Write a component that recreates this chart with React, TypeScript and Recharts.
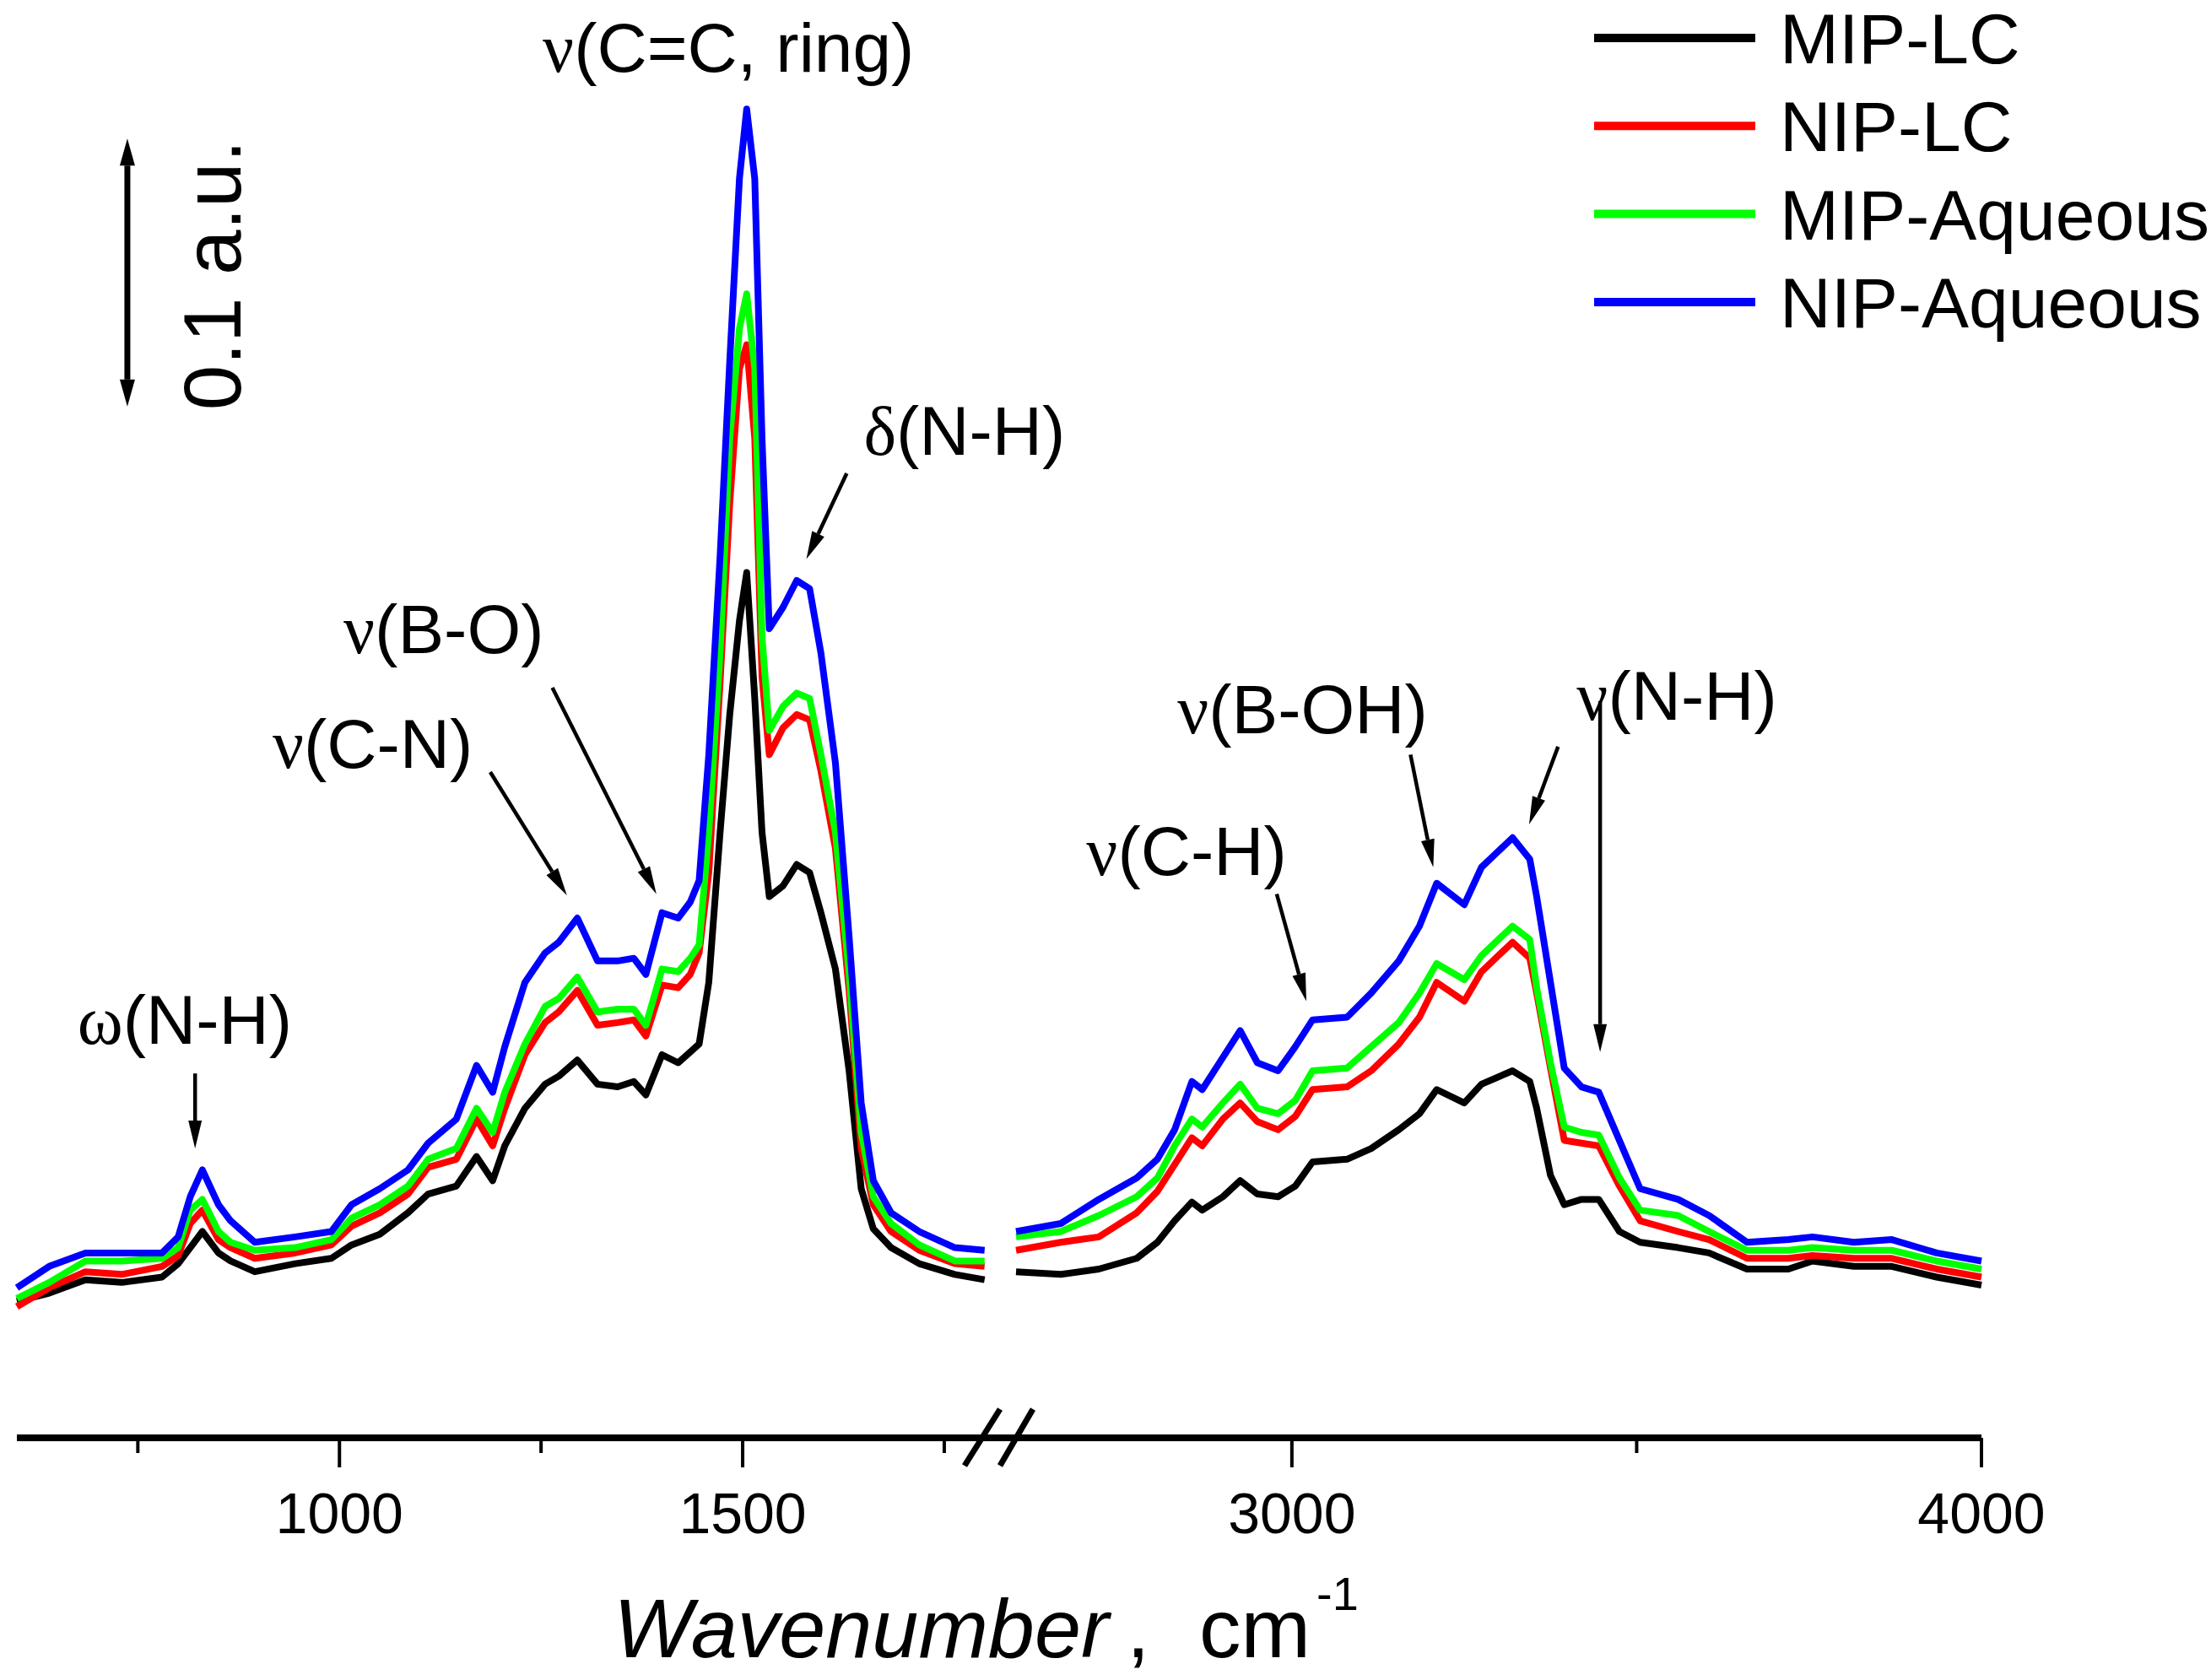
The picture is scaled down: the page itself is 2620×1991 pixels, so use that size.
import { LineChart, Line, XAxis, YAxis, ReferenceLine, ReferenceDot } from 'recharts';

const W = 2620;
const H = 1991;
const PLOT_BOTTOM = 1704;
// 0.1 a.u. on the scale bar is 317.5 px tall
const Y_MAX = PLOT_BOTTOM / 3175;
const X_AXIS_H = 100;

const seriesNames = ['MIP-LC', 'NIP-LC', 'MIP-Aqueous', 'NIP-Aqueous'];
const seriesKeys = ['mipLc', 'nipLc', 'mipAq', 'nipAq'];
const seriesColors = ['#000000', '#ff0000', '#00ff00', '#0000ff'];

// fingerprint region, 600-1800 cm-1
const lowWavenumbers = [
  600, 640, 685, 730, 780, 800, 815, 830, 850, 865, 895, 945, 990, 1015, 1050, 1085, 1110, 1145,
  1170, 1190, 1205, 1230, 1255, 1272, 1295, 1320, 1345, 1365, 1380, 1400, 1420, 1435, 1446, 1458,
  1472, 1484, 1496, 1505, 1515, 1524, 1533, 1550, 1567, 1583, 1597, 1615, 1632, 1647, 1662, 1684,
  1719, 1763, 1800,
];
const lowMipLc = [
  0.051, 0.054, 0.059, 0.058, 0.06, 0.065, 0.071, 0.077, 0.069, 0.066, 0.062, 0.065, 0.067, 0.072,
  0.076, 0.084, 0.091, 0.094, 0.105, 0.096, 0.109, 0.123, 0.132, 0.135, 0.141, 0.132, 0.131, 0.133,
  0.128, 0.143, 0.14, 0.144, 0.147, 0.17, 0.226, 0.27, 0.305, 0.323, 0.276, 0.226, 0.202, 0.206,
  0.214, 0.211, 0.196, 0.175, 0.137, 0.093, 0.078, 0.071, 0.065, 0.061, 0.059,
];
const lowNipLc = [
  0.049, 0.056, 0.062, 0.061, 0.064, 0.068, 0.08, 0.085, 0.074, 0.071, 0.067, 0.069, 0.072, 0.079,
  0.084, 0.091, 0.101, 0.104, 0.119, 0.109, 0.123, 0.143, 0.155, 0.159, 0.167, 0.154, 0.155, 0.156,
  0.15, 0.169, 0.168, 0.173, 0.181, 0.211, 0.282, 0.349, 0.399, 0.408, 0.373, 0.284, 0.255, 0.265,
  0.27, 0.268, 0.249, 0.22, 0.167, 0.108, 0.087, 0.077, 0.07, 0.065, 0.064,
];
const lowMipAq = [
  0.052, 0.058, 0.066, 0.066, 0.067, 0.071, 0.085, 0.089, 0.077, 0.073, 0.07, 0.071, 0.074, 0.082,
  0.087, 0.094, 0.104, 0.108, 0.123, 0.114, 0.129, 0.147, 0.161, 0.164, 0.172, 0.159, 0.16, 0.16,
  0.154, 0.175, 0.174, 0.179, 0.184, 0.226, 0.293, 0.373, 0.414, 0.427, 0.399, 0.299, 0.264, 0.273,
  0.278, 0.276, 0.255, 0.226, 0.173, 0.114, 0.09, 0.08, 0.072, 0.066, 0.066,
];
const lowNipAq = [
  0.056, 0.064, 0.069, 0.069, 0.069, 0.075, 0.09, 0.1, 0.087, 0.081, 0.073, 0.075, 0.077, 0.087,
  0.093, 0.1, 0.11, 0.119, 0.139, 0.129, 0.146, 0.17, 0.181, 0.185, 0.194, 0.178, 0.178, 0.179,
  0.173, 0.196, 0.194, 0.2, 0.208, 0.255, 0.329, 0.402, 0.47, 0.496, 0.47, 0.373, 0.302, 0.31,
  0.32, 0.317, 0.293, 0.252, 0.187, 0.125, 0.096, 0.084, 0.077, 0.071, 0.07,
];

// high wavenumber region, 2600-4000 cm-1
const highWavenumbers = [
  2600, 2665, 2720, 2775, 2805, 2830, 2855, 2870, 2900, 2925, 2950, 2980, 3005, 3030, 3080, 3115,
  3155, 3185, 3210, 3250, 3275, 3320, 3345, 3355, 3375, 3395, 3420, 3445, 3475, 3505, 3560, 3605,
  3660, 3720, 3755, 3815, 3870, 3935, 4000,
];
const highMipLc = [
  0.062, 0.061, 0.063, 0.067, 0.073, 0.081, 0.088, 0.085, 0.09, 0.096, 0.091, 0.09, 0.094, 0.103,
  0.104, 0.108, 0.115, 0.121, 0.13, 0.125, 0.132, 0.137, 0.133, 0.123, 0.098, 0.087, 0.089, 0.089,
  0.077, 0.073, 0.071, 0.069, 0.063, 0.063, 0.066, 0.064, 0.064, 0.06, 0.057,
];
const highNipLc = [
  0.07, 0.073, 0.075, 0.084, 0.092, 0.102, 0.112, 0.109, 0.119, 0.125, 0.118, 0.115, 0.12, 0.13,
  0.131, 0.137, 0.147, 0.157, 0.17, 0.163, 0.174, 0.185, 0.179, 0.166, 0.138, 0.111, 0.11, 0.109,
  0.094, 0.081, 0.077, 0.074, 0.067, 0.067, 0.068, 0.067, 0.067, 0.063, 0.06,
];
const highMipAq = [
  0.075, 0.077, 0.083, 0.09, 0.097, 0.109, 0.119, 0.116, 0.125, 0.132, 0.123, 0.121, 0.126, 0.137,
  0.138, 0.146, 0.155, 0.166, 0.177, 0.171, 0.18, 0.191, 0.186, 0.168, 0.14, 0.116, 0.114, 0.113,
  0.097, 0.085, 0.083, 0.077, 0.07, 0.07, 0.071, 0.07, 0.07, 0.066, 0.063,
];
const highNipAq = [
  0.077, 0.08, 0.089, 0.097, 0.104, 0.115, 0.133, 0.13, 0.142, 0.152, 0.14, 0.137, 0.146, 0.156,
  0.157, 0.166, 0.178, 0.191, 0.207, 0.199, 0.213, 0.224, 0.216, 0.202, 0.17, 0.138, 0.131, 0.129,
  0.111, 0.093, 0.089, 0.083, 0.073, 0.074, 0.075, 0.073, 0.074, 0.069, 0.066,
];

const lowTicks = [750, 1000, 1250, 1500, 1750];
const lowMajor = [1000, 1500];
const highTicks = [3000, 3500, 4000];
const highMajor = [3000, 4000];

// band assignments: text anchor and arrow in data units
const lowBands = [
  { greek: 'ν', text: '(C=C, ring)', w: 1252, v: 0.51 },
  { greek: 'δ', text: '(N-H)', w: 1650, v: 0.367, arrow: [1629, 0.36, 1579, 0.328] },
  { greek: 'ν', text: '(B-O)', w: 1005, v: 0.293, arrow: [1264, 0.28, 1393, 0.203] },
  { greek: 'ν', text: '(C-N)', w: 917, v: 0.25, arrow: [1187, 0.2485, 1282, 0.2025] },
  { greek: 'ω', text: '(N-H)', w: 675, v: 0.147, arrow: [821, 0.136, 821, 0.108] },
];
const highBands = [
  { greek: 'ν', text: '(C-H)', w: 2702, v: 0.21, arrow: [2978, 0.203, 3021, 0.163] },
  { greek: 'ν', text: '(B-OH)', w: 2834, v: 0.263, arrow: [3172, 0.255, 3205, 0.213] },
  { greek: 'ν', text: '(N-H)', w: 3413, v: 0.268, arrow: [3386, 0.258, 3344, 0.229] },
];
const highExtraArrow = [3447, 0.275, 3447, 0.144];

const sans = '"Liberation Sans", Arial, sans-serif';
const serif = '"Liberation Serif", "DejaVu Serif", serif';

function build(ws: number[], cols: number[][]) {
  return ws.map((w, i) => {
    const row: Record<string, number> = { w };
    seriesKeys.forEach((k, j) => (row[k] = cols[j][i]));
    return row;
  });
}

const lowData = build(lowWavenumbers, [lowMipLc, lowNipLc, lowMipAq, lowNipAq]);
const highData = build(highWavenumbers, [highMipLc, highNipLc, highMipAq, highNipAq]);

function head(x1: number, y1: number, x2: number, y2: number, len = 33, half = 8) {
  const d = Math.hypot(x2 - x1, y2 - y1) || 1;
  const ux = (x2 - x1) / d;
  const uy = (y2 - y1) / d;
  const bx = x2 - ux * len;
  const by = y2 - uy * len;
  return {
    bx,
    by,
    pts: `${x2},${y2} ${bx - uy * half},${by + ux * half} ${bx + uy * half},${by - ux * half}`,
  };
}

function Arrow(props: any) {
  const { x1, y1, x2, y2 } = props;
  const h = head(x1, y1, x2, y2);
  return (
    <g>
      <line x1={x1} y1={y1} x2={h.bx} y2={h.by} stroke="#000" strokeWidth={4.5} />
      <polygon points={h.pts} fill="#000" />
    </g>
  );
}

function DoubleArrow(props: any) {
  const { x1, y1, x2, y2 } = props;
  const a = head(x1, y1, x2, y2, 32, 9);
  const b = head(x2, y2, x1, y1, 32, 9);
  return (
    <g>
      <line x1={b.bx} y1={b.by} x2={a.bx} y2={a.by} stroke="#000" strokeWidth={7} />
      <polygon points={a.pts} fill="#000" />
      <polygon points={b.pts} fill="#000" />
    </g>
  );
}

function AxisTick({ x, y, payload, majors }: any) {
  const major = majors.includes(payload.value);
  return (
    <g>
      <line x1={x} x2={x} y1={y} y2={y + (major ? 35 : 18)} stroke="#000" strokeWidth={4} />
      {major && (
        <text x={x} y={y + 113} textAnchor="middle" fontSize={68} fontFamily={sans} fill="#000">
          {payload.value}
        </text>
      )}
    </g>
  );
}

function bandMarks(bands: any[]) {
  const out: any[] = [];
  bands.forEach((b, i) => {
    out.push(
      <ReferenceDot
        key={`t${i}`}
        x={b.w}
        y={b.v}
        r={0}
        ifOverflow="visible"
        shape={(p: any) => (
          <text x={p.cx} y={p.cy} fontSize={82} fontFamily={sans} fill="#000">
            <tspan fontFamily={serif}>{b.greek}</tspan>
            {b.text}
          </text>
        )}
      />
    );
    if (b.arrow) {
      const [xa, ya, xb, yb] = b.arrow;
      out.push(
        <ReferenceLine
          key={`a${i}`}
          segment={[{ x: xa, y: ya }, { x: xb, y: yb }]}
          ifOverflow="visible"
          shape={(p: any) => <Arrow {...p} />}
        />
      );
    }
  });
  return out;
}

function Segment({ data, domain, ticks, majors, left, right, children }: any) {
  return (
    <div style={{ position: 'absolute', left: 0, top: 0 }}>
      <LineChart
        width={W}
        height={H}
        data={data}
        margin={{ top: 0, right, left, bottom: H - PLOT_BOTTOM - X_AXIS_H }}
      >
        <XAxis
          dataKey="w"
          type="number"
          domain={domain}
          ticks={ticks}
          interval={0}
          height={X_AXIS_H}
          tickSize={0}
          tickMargin={0}
          tickLine={false}
          axisLine={{ stroke: '#000', strokeWidth: 8 }}
          tick={<AxisTick majors={majors} />}
        />
        <YAxis type="number" domain={[0, Y_MAX]} hide />
        {seriesKeys.map((k, i) => (
          <Line
            key={k}
            dataKey={k}
            name={seriesNames[i]}
            type="linear"
            stroke={seriesColors[i]}
            strokeWidth={8}
            strokeLinejoin="round"
            dot={false}
            activeDot={false}
            isAnimationActive={false}
          />
        ))}
        {children}
      </LineChart>
    </div>
  );
}

export default function App() {
  return (
    <div style={{ position: 'absolute', left: 0, top: 0, width: W, height: H, background: '#fff' }}>
      <Segment data={lowData} domain={[600, 1839]} ticks={lowTicks} majors={lowMajor} left={20} right={W - 1204}>
        {bandMarks(lowBands)}
        <ReferenceLine
          segment={[{ x: 737, y: 0.385 }, { x: 737, y: 0.485 }]}
          ifOverflow="visible"
          shape={(p: any) => <DoubleArrow {...p} />}
        />
        <ReferenceDot
          x={877}
          y={0.434}
          r={0}
          ifOverflow="visible"
          shape={(p: any) => (
            <text
              transform={`translate(${p.cx},${p.cy}) rotate(-90)`}
              textAnchor="middle"
              fontSize={96}
              fontFamily={sans}
              fill="#000"
            >
              0.1 a.u.
            </text>
          )}
        />
      </Segment>
      <Segment data={highData} domain={[2600, 4000]} ticks={highTicks} majors={highMajor} left={1204} right={W - 2348}>
        {bandMarks(highBands)}
        <ReferenceLine
          segment={[{ x: highExtraArrow[0], y: highExtraArrow[1] }, { x: highExtraArrow[2], y: highExtraArrow[3] }]}
          ifOverflow="visible"
          shape={(p: any) => <Arrow {...p} />}
        />
      </Segment>
      <svg width={W} height={H} style={{ position: 'absolute', left: 0, top: 0, pointerEvents: 'none' }}>
        {/* axis break */}
        <line x1={1143} y1={1737} x2={1185} y2={1670} stroke="#000" strokeWidth={7} />
        <line x1={1185} y1={1737} x2={1224} y2={1670} stroke="#000" strokeWidth={7} />
        {/* axis title */}
        <g fontFamily={sans} fill="#000">
          <text x={727} y={1964} fontSize={99} fontStyle="italic">Wavenumber</text>
          <text x={1335} y={1964} fontSize={99}>,</text>
          <text x={1421} y={1964} fontSize={99}>cm</text>
          <text x={1560} y={1908} fontSize={56}>-1</text>
        </g>
        {/* legend */}
        {seriesNames.map((n, i) => {
          const cy = 45 + 104.3 * i;
          return (
            <g key={n}>
              <line x1={1889} x2={2080} y1={cy} y2={cy} stroke={seriesColors[i]} strokeWidth={10} />
              <text x={2109} y={cy + 30} fontSize={84} fontFamily={sans} fill="#000">
                {n}
              </text>
            </g>
          );
        })}
      </svg>
    </div>
  );
}
